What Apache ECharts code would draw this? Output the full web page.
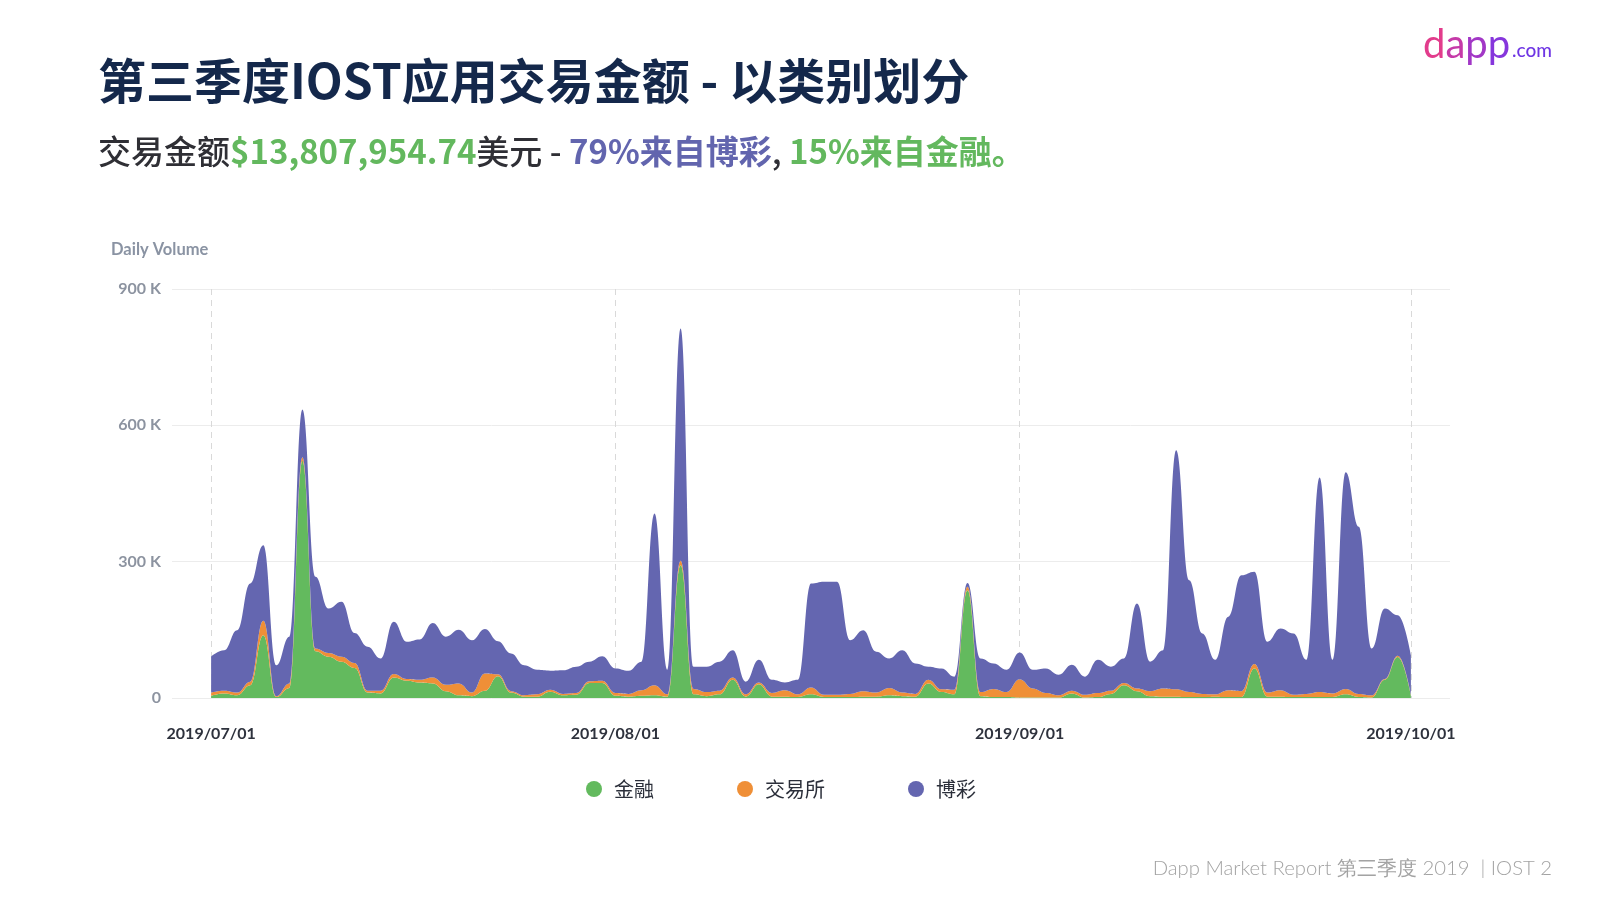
<!DOCTYPE html>
<html>
<head>
<meta charset="utf-8">
<script src="https://cdn.jsdelivr.net/npm/echarts@6/dist/echarts.min.js"></script>
<style>
html,body{margin:0;padding:0;background:#ffffff;}
#chart{width:1600px;height:900px;}
</style>
</head>
<body>
<div id="chart"></div>
<script>
// ---------- data (values in thousands of USD, one per day 2019/07/01 .. 2019/10/01) ----------
const seriesNames = ['金融', '交易所', '博彩'];
const xTickLabels = ['2019/07/01', '2019/08/01', '2019/09/01', '2019/10/01'];
const yTickValues = [0, 300, 600, 900];

const financeK = [
  5,10,6,28,138,2,22,522,103,91,80,66,12,10,45,38,34,32,15,6,4,16,48,12,3,3,14,6,7,33,33,
  5,3,5,6,3,292,8,4,8,40,3,30,3,3,2,8,2,2,2,3,3,6,4,3,32,13,8,237,4,2,2,
  1,1,1,1,10,1,2,9,28,15,4,3,3,2,2,3,2,2,65,3,3,2,2,2,2,8,2,1,40,90,
  5
];
const exchangeK = [
  7,6,6,8,32,2,10,8,6,8,11,11,4,6,8,4,6,13,14,26,8,38,4,3,3,5,4,3,4,4,5,
  6,6,12,22,5,10,12,9,8,5,5,4,8,14,6,15,5,5,7,12,9,16,8,6,8,6,10,8,9,18,11,
  40,20,10,5,6,6,9,7,5,6,11,18,16,11,7,5,15,13,10,9,14,5,7,11,8,12,7,5,2,3,
  2
];
const gamblingK = [
  79,89,137,216,166,68,103,105,158,98,121,66,97,71,115,82,89,120,106,118,115,98,73,83,66,54,42,52,58,43,54,
  54,51,63,378,54,511,49,56,64,60,28,50,29,17,32,229,249,249,118,134,90,65,93,67,29,46,29,8,74,56,49,
  59,41,54,45,57,40,73,53,54,187,65,84,526,246,133,76,162,255,203,112,136,135,75,472,74,477,368,103,155,89,
  87
];

// ---------- categories: daily dates with 3 empty days of padding on each side ----------
const PAD = 3;
function fmtDate(d) {
  const m = String(d.getMonth() + 1).padStart(2, '0');
  const dd = String(d.getDate()).padStart(2, '0');
  return d.getFullYear() + '/' + m + '/' + dd;
}
const categories = [];
for (let i = -PAD; i < financeK.length + PAD; i++) {
  categories.push(fmtDate(new Date(2019, 6, 1 + i)));
}
function padded(arr) {
  const out = [];
  for (let i = 0; i < PAD; i++) out.push('-');
  arr.forEach(v => out.push(v * 1000));
  for (let i = 0; i < PAD; i++) out.push('-');
  return out;
}

const colors = ['#63ba5e', '#ef8f37', '#6466b0'];
const isTick = (idx, val) => xTickLabels.indexOf(val) >= 0;

const chart = echarts.init(document.getElementById('chart'), null, {renderer: 'canvas'});

const cjk = '"Noto Sans CJK SC", "Noto Sans", sans-serif';
const latin = 'Lato, "Noto Sans", sans-serif';

const option = {
  backgroundColor: '#ffffff',
  animation: false,
  color: colors,
  grid: {
    left: 172, right: 150, top: 289, bottom: 202,
    containLabel: false, outerBoundsMode: 'none'
  },
  legend: {
    data: seriesNames,
    left: 581, top: 774,
    icon: 'circle',
    itemWidth: 30, itemHeight: 16, itemGap: 83,
    textStyle: {fontSize: 20, color: '#2b2f3a', fontFamily: cjk}
  },
  xAxis: {
    type: 'category',
    data: categories,
    boundaryGap: false,
    axisLine: {show: false},
    axisTick: {show: false},
    axisLabel: {
      interval: isTick,
      margin: 28,
      fontSize: 16, fontWeight: 'bold', color: '#2e323d', fontFamily: latin
    },
    splitLine: {
      show: true, interval: isTick,
      lineStyle: {color: '#d9d9d9', type: [6, 5], width: 1}
    }
  },
  yAxis: {
    type: 'value',
    min: 0, max: 900000, interval: 300000,
    axisLine: {show: false},
    axisTick: {show: false},
    axisLabel: {
      margin: 11,
      fontSize: 16, fontWeight: 'bold', color: '#8c93a0', fontFamily: latin,
      formatter: v => (v === 0 ? '0' : (v / 1000) + ' K')
    },
    splitLine: {lineStyle: {color: '#ececec', width: 1}}
  },
  series: [financeK, exchangeK, gamblingK].map((arr, i) => ({
    name: seriesNames[i],
    type: 'line',
    stack: 'total',
    data: padded(arr),
    smooth: 0.45,
    smoothMonotone: 'x',
    showSymbol: false,
    symbol: 'none',
    lineStyle: {width: 0},
    areaStyle: {color: colors[i], opacity: 1},
    itemStyle: {color: colors[i]},
    z: 2
  })),
  graphic: [
    {
      type: 'text', left: 98, top: 57, silent: true,
      style: {
        text: '第三季度IOST应用交易金额 - 以类别划分',
        font: 'bold 48px ' + cjk, fill: '#14284b'
      }
    },
    {
      type: 'text', left: 98, top: 135, silent: true,
      style: {
        text: '{a|交易金额}{g|$13,807,954.74}{a|美元 - }{p|79%来自博彩}{a|, }{g|15%来自金融。}',
        rich: {
          a: {fontSize: 33, fontFamily: cjk, fontWeight: 500, fill: '#2f2f35'},
          g: {fontSize: 33, fontFamily: cjk, fontWeight: 'bold', fill: '#63b85e'},
          p: {fontSize: 33, fontFamily: cjk, fontWeight: 'bold', fill: '#6265ae'}
        }
      }
    },
    {
      type: 'text', left: 111, top: 241, silent: true,
      style: {text: 'Daily Volume', font: 'bold 16.5px ' + latin, fill: '#8a93a3'}
    },
    {
      type: 'text', left: 1423, top: 25, silent: true,
      style: {
        text: '{d|d}{a|a}{p|p}{q|p}',
        rich: {
          d: {fontSize: 40, fontFamily: latin, fill: '#e23c8c'},
          a: {fontSize: 40, fontFamily: latin, fill: '#c53aa8'},
          p: {fontSize: 40, fontFamily: latin, fill: '#a237c6'},
          q: {fontSize: 40, fontFamily: latin, fill: '#8636dc'}
        }
      }
    },
    {
      type: 'text', left: 1512, top: 41, silent: true,
      style: {text: '.com', font: '500 19px ' + latin, fill: '#6f36e4'}
    },
    {
      type: 'text', right: 48, top: 858, silent: true,
      style: {
        text: 'Dapp Market Report 第三季度 2019  | IOST 2',
        font: '300 20.3px ' + latin, fill: '#a3a3a3'
      }
    }
  ]
};

chart.setOption(option);
</script>
</body>
</html>
